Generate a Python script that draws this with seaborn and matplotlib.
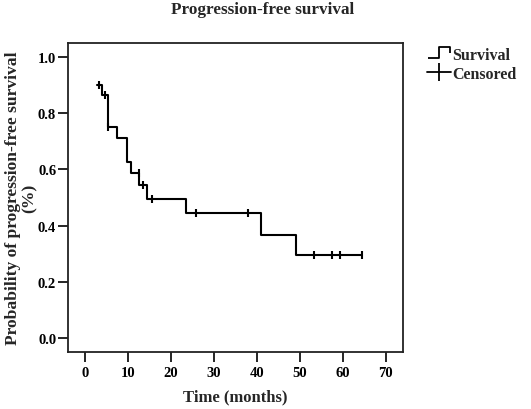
import numpy as np
import seaborn as sns
import matplotlib.pyplot as plt
from matplotlib.lines import Line2D
from matplotlib.path import Path

# Kaplan-Meier steps
event_times = [2.7, 3.9, 5.3, 7.5, 9.7, 10.7, 12.6, 14.5, 23.5, 41.0, 49.0, 64.4]
survival = [0.90, 0.865, 0.75, 0.713, 0.627, 0.587, 0.545, 0.495, 0.443, 0.368, 0.295, 0.295]
censor_times = [3.2, 4.6, 5.4, 12.5, 13.5, 15.6, 25.7, 38.0, 53.3, 57.4, 59.3, 64.4]

x_ticks = [0, 10, 20, 30, 40, 50, 60, 70]
y_ticks = [0.0, 0.2, 0.4, 0.6, 0.8, 1.0]

# survival level at each censored time (step function lookup)
idx = np.searchsorted(event_times, censor_times, side='right') - 1
censor_surv = [survival[i] for i in idx]

sns.set_style('ticks')
plt.rcParams['font.family'] = ['Liberation Serif', 'DejaVu Serif']
plt.rcParams['font.weight'] = 'bold'

fig = plt.figure(figsize=(5.31, 4.10), dpi=100)
ax = fig.add_axes([0.128, 0.139, 0.631, 0.754])

sns.lineplot(x=event_times, y=survival, drawstyle='steps-post', color='black',
             linewidth=1.5, ax=ax, estimator=None, sort=False)
ax.plot(censor_times, censor_surv, linestyle='none', marker='|', color='black',
        markersize=6, markeredgewidth=1.5)

ax.set_xlim(-4, 74)
ax.set_ylim(-0.05, 1.05)
ax.set_xticks(x_ticks)
ax.set_yticks(y_ticks)
ax.set_yticklabels([f'{v:.1f}' for v in y_ticks])
ax.tick_params(direction='out', length=7, width=1.2, pad=1.5, labelsize=10.5,
               colors='black')
ax.tick_params(axis='x', pad=3)
for s in ax.spines.values():
    s.set_visible(True)
    s.set_linewidth(1.3)
    s.set_color('#222222')

ax.set_xlabel('Time (months)', fontsize=12, fontweight='bold', labelpad=7)
ax.set_ylabel('Probability of progression-free survival\n(%)', fontsize=12.6,
              fontweight='bold', labelpad=0.5, linespacing=1.0)
fig.text(0.495, 0.975, 'Progression-free survival', ha='center', va='center',
         fontsize=12.3, fontweight='bold')

# legend: step glyph for survival, cross for censored
step_marker = Path([(-1, -0.45), (0, -0.45), (0, 0.5), (1, 0.5), (1, 0.0)])
handles = [
    Line2D([], [], linestyle='none', marker=step_marker, markersize=16,
           markerfacecolor='none', markeredgecolor='black', markeredgewidth=1.3),
    Line2D([], [], color='black', linewidth=1.3, marker='|', markersize=13,
           markeredgewidth=1.3),
]
fig.legend(handles, ['Survival', 'Censored'], loc='upper left',
           bbox_to_anchor=(0.79, 0.903), frameon=False, fontsize=11.5,
           handlelength=1.5, handletextpad=0.05, labelspacing=0.2, borderpad=0)

fig.savefig('out.png', dpi=100)
